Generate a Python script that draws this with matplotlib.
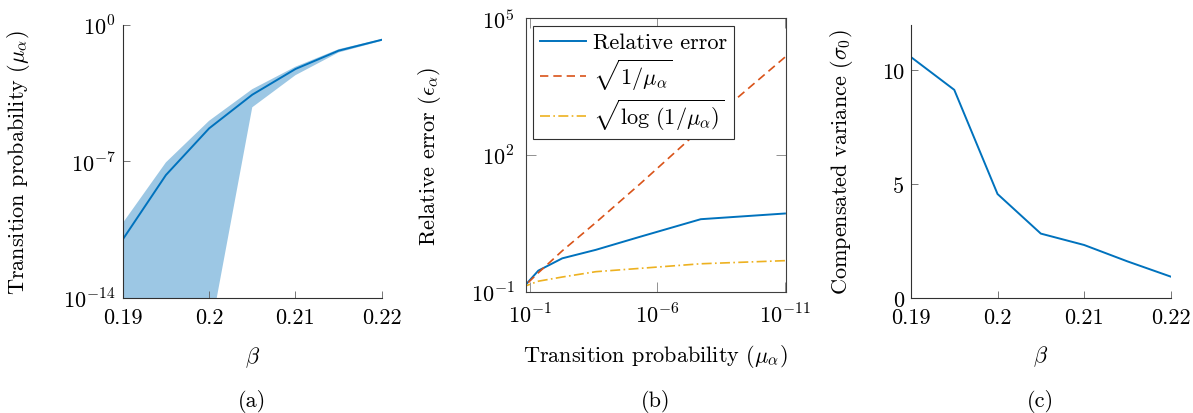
import numpy as np
import matplotlib
matplotlib.use("Agg")
from matplotlib import pyplot as plt

plt.rcParams['font.family'] = 'serif'
plt.rcParams['font.serif'] = ['cmr10']
plt.rcParams['mathtext.fontset'] = 'cm'
plt.rcParams['axes.formatter.use_mathtext'] = True
plt.rcParams['axes.unicode_minus'] = False

BLUE = '#0072BD'
RED = '#D95319'
YELLOW = '#EDB120'
FILL = '#9CC7E4'

beta = [0.19, 0.195, 0.2, 0.205, 0.21, 0.215, 0.22]
mu_mean = [1.0e-11, 2.0e-8, 4.9e-6, 2.6e-4, 5.4e-3, 4.7e-2, 1.7e-1]
mu_upper = [6.9e-11, 8.9e-8, 1.2e-5, 5.0e-4, 7.1e-3, 5.6e-2, 1.86e-1]
mu_lower = [1e-24, 1e-20, 8e-17, 5.9e-5, 2.6e-3, 3.8e-2, 1.5e-1]

# panel (b) values, same order as beta / mu_mean
rel_error = [5.2, 3.9, 1.6, 0.83, 0.54, 0.29, 0.13]
sqrt_inv = [1.4e4, 370.0, 23.0, 3.3, 0.79, 0.26, 0.13]
sqrt_log = [0.48, 0.41, 0.325, 0.275, 0.21, 0.17, 0.13]

sigma0 = [10.59, 9.15, 4.57, 2.83, 2.33, 1.61, 0.94]

beta_ticks = [0.19, 0.2, 0.21, 0.22]
beta_labels = ['0.19', '0.2', '0.21', '0.22']

FS = 16

fig = plt.figure(figsize=(11.93, 4.14), dpi=100)


def style_open(ax):
    ax.spines['top'].set_visible(False)
    ax.spines['right'].set_visible(False)
    for s in ('left', 'bottom'):
        ax.spines[s].set_linewidth(0.8)
        ax.spines[s].set_color('#303030')
    ax.tick_params(direction='in', length=5, width=0.6, color='#606060',
                   labelsize=FS)
    ax.tick_params(axis='x', pad=7)
    ax.tick_params(axis='y', pad=5)
    ax.minorticks_off()


# (a)
ax1 = fig.add_axes([0.1029, 0.2778, 0.2171, 0.660])
ax1.fill_between(beta, mu_lower, mu_upper, color=FILL, lw=0)
ax1.plot(beta, mu_mean, color=BLUE, lw=1.4)
ax1.set_yscale('log')
ax1.set_xlim(0.19, 0.22)
ax1.set_ylim(1e-14, 1e0)
ax1.set_xticks(beta_ticks, beta_labels)
ax1.set_yticks([1e-14, 1e-7, 1e0], [r'$10^{-14}$', r'$10^{-7}$', r'$10^{0}$'])
style_open(ax1)
ax1.set_xlabel(r'$\beta$', fontsize=FS)
ax1.set_ylabel(r'Transition probability $(\mu_\alpha)$', fontsize=FS)
ax1.xaxis.set_label_coords(0.5, -0.168)
ax1.yaxis.set_label_coords(-0.350, 0.5)

# (b)
ax2 = fig.add_axes([0.4406, 0.2930, 0.2182, 0.6604])
ax2.plot(mu_mean, rel_error, color=BLUE, lw=1.4, label='Relative error')
ax2.plot(mu_mean, sqrt_inv, color=RED, lw=1.2, ls=(0, (5, 3)),
         label=r'$\sqrt{1/\mu_\alpha}$')
ax2.plot(mu_mean, sqrt_log, color=YELLOW, lw=1.2, ls=(0, (6, 2, 1, 2)),
         label=r'$\sqrt{\log\,(1/\mu_\alpha)}$')
ax2.set_xscale('log')
ax2.set_yscale('log')
ax2.set_xlim(10 ** -0.83, 10 ** -11.04)
ax2.set_ylim(1e-1, 1e5)
ax2.set_xticks([1e-1, 1e-6, 1e-11], [r'$10^{-1}$', r'$10^{-6}$', r'$10^{-11}$'])
ax2.set_yticks([1e-1, 1e2, 1e5], [r'$10^{-1}$', r'$10^{2}$', r'$10^{5}$'])
ax2.minorticks_off()
for s in ax2.spines.values():
    s.set_linewidth(0.8)
    s.set_color('#404040')
ax2.tick_params(direction='in', length=7, width=0.6, color='#808080',
                labelsize=FS, top=True, right=True, pad=8)
ax2.set_xlabel(r'Transition probability $(\mu_\alpha)$', fontsize=FS)
ax2.set_ylabel(r'Relative error $(\epsilon_\alpha)$', fontsize=FS)
ax2.xaxis.set_label_coords(0.5, -0.184)
ax2.yaxis.set_label_coords(-0.318, 0.5)
leg = ax2.legend(loc='upper left', fontsize=FS, frameon=True, fancybox=False,
                 edgecolor='#303030', framealpha=1, handlelength=2.05,
                 borderaxespad=0.35, labelspacing=0.2, handletextpad=0.35,
                 borderpad=0.3)
leg.get_frame().set_linewidth(0.8)

# (c)
ax3 = fig.add_axes([0.7636, 0.2778, 0.2177, 0.6594])
ax3.plot(beta, sigma0, color=BLUE, lw=1.4)
ax3.set_xlim(0.19, 0.22)
ax3.set_ylim(0, 12)
ax3.set_xticks(beta_ticks, beta_labels)
ax3.set_yticks([0, 5, 10], ['0', '5', '10'])
style_open(ax3)
ax3.set_xlabel(r'$\beta$', fontsize=FS)
ax3.set_ylabel(r'Compensated variance $(\sigma_0)$', fontsize=FS)
ax3.xaxis.set_label_coords(0.5, -0.168)
ax3.yaxis.set_label_coords(-0.216, 0.5)

for ax, tag in ((ax1, '(a)'), (ax2, '(b)'), (ax3, '(c)')):
    x0, _, w, _ = ax.get_position().bounds
    fig.text(x0 + w / 2, 1 - 402 / 414, tag,
             ha='center', va='center', fontsize=FS)

fig.savefig('out.png', dpi=100)
